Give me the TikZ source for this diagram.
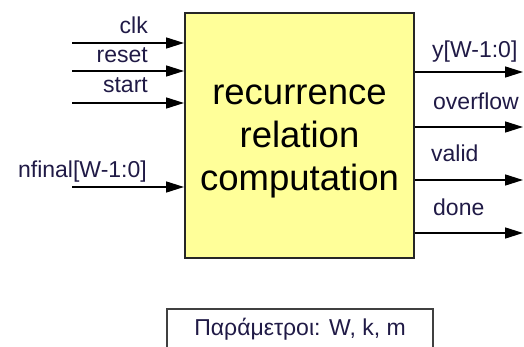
\documentclass[tikz,border=0pt]{standalone}
\usepackage{fontspec}
\setmainfont{Liberation Sans}
\usetikzlibrary{arrows.meta}
\definecolor{blockfill}{RGB}{255,255,153}
\definecolor{labelink}{RGB}{32,26,70}
\begin{document}
\begin{tikzpicture}[x=1pt,y=-1pt,
  sig/.style={line width=1.5pt, draw=black, -{Triangle[length=18pt,width=11pt]}},
  lbl/.style={font=\fontsize{23}{27}\selectfont, text=labelink, inner sep=0pt},
  bigtxt/.style={font=\fontsize{36.5}{43}\selectfont, text=black, inner sep=0pt},
  block/.style={draw=black!85, line width=2pt, fill=blockfill,
    minimum width=229pt, minimum height=245pt, inner sep=0pt},
  parbox/.style={draw=black!75, line width=1.5pt, fill=white, anchor=north,
    minimum width=266pt, inner xsep=0pt, inner ysep=10pt,
    text height=17pt, text depth=30pt, font=\fontsize{23}{27}\selectfont, text=labelink}]
  \useasboundingbox (0,0) rectangle (524,347);
  \clip (0,0) rectangle (524,347);

  % main computation block
  \node[block] (blk) at (299.5,135.5) {};
  \node[bigtxt, anchor=base] (t1) at (299.5,105) {recurrence};
  \node[bigtxt, anchor=base] (t2) at (299.5,148) {relation};
  \node[bigtxt, anchor=base] (t3) at (299.5,191) {computation};

  % inputs
  \coordinate (iclk)   at (72,43);
  \coordinate (ireset) at (72,71);
  \coordinate (istart) at (72,103);
  \coordinate (infin)  at (72,187);
  \draw[sig] (iclk)   -- (iclk -| blk.west);
  \draw[sig] (ireset) -- (ireset -| blk.west);
  \draw[sig] (istart) -- (istart -| blk.west);
  \draw[sig] (infin)  -- (infin -| blk.west);
  \node[lbl, anchor=base east] (lclk)   at (148,34)  {clk};
  \node[lbl, anchor=base east] (lreset) at (148,63)  {reset};
  \node[lbl, anchor=base east] (lstart) at (148,93)  {start};
  \node[lbl, anchor=base east] (lnfin)  at (147,178) {nfinal[W-1:0]};

  % outputs
  \coordinate (oy)    at (523,72);
  \coordinate (oovf)  at (523,127);
  \coordinate (ovalid) at (523,180);
  \coordinate (odone) at (523,233);
  \draw[sig] (oy -| blk.east)     -- (oy);
  \draw[sig] (oovf -| blk.east)   -- (oovf);
  \draw[sig] (ovalid -| blk.east) -- (ovalid);
  \draw[sig] (odone -| blk.east)  -- (odone);
  \node[lbl, anchor=base west] (ly)     at (432,58)  {y[W-1:0]};
  \node[lbl, anchor=base west] (lovf)   at (433,110) {overflow};
  \node[lbl, anchor=base west] (lvalid) at (431,162) {valid};
  \node[lbl, anchor=base west] (ldone)  at (433,215) {done};

  % parameter box
  \node[parbox] (par) at (300,308) {Παράμετροι: W, k, m};
\end{tikzpicture}
\end{document}
